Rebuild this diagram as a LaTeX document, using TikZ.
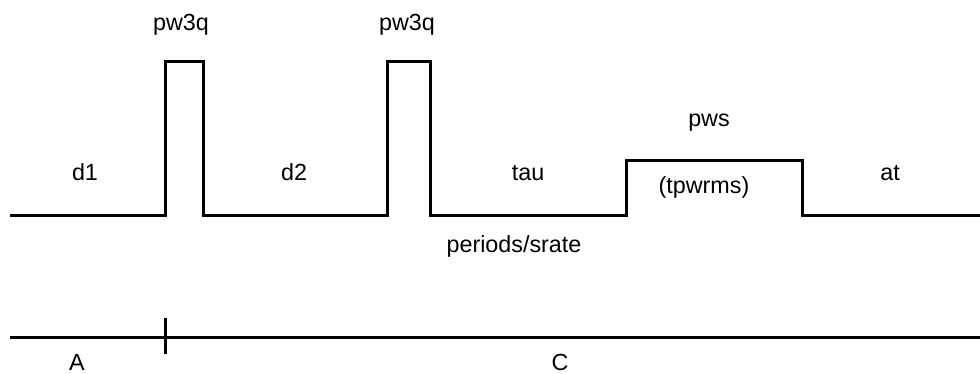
\documentclass[tikz,border=0pt]{standalone}
\usepackage{fontspec}
\setmainfont{Liberation Sans}
\begin{document}
\begin{tikzpicture}[x=0.75pt, y=-0.75pt, every node/.style={font=\fontsize{17.5}{20}\selectfont, anchor=base, inner sep=0pt}, seq/.style={line width=2.25pt, line join=miter}]
	\useasboundingbox (0,0) rectangle (980,374);
	% pulse train
	\draw[seq] (10,215) -- (165,215) -- (165,62) -- (203,62) -- (203,215) -- (387,215) -- (387,62) -- (430,62) -- (430,215) -- (626,215) -- (626,160) -- (802,160) -- (802,215) -- (980,215);
	\node (pa) at (181,31) {pw3q};
	\node (pb) at (407,31) {pw3q};
	\node (d1) at (85,180) {d1};
	\node (d2) at (294,180) {d2};
	\node (tau) at (528,180) {tau};
	\node (pws) at (709,127) {pws};
	\node (tpw) at (704,193) {(tpwrms)};
	\node (at) at (890,180) {at};
	\node (per) at (514,252) {periods/srate};
	% time axis
	\draw[seq] (10,337) -- (980,337);
	\draw[seq] (165,318) -- (165,354);
	\node (A) at (77,370) {A};
	\node (C) at (560,370) {C};
\end{tikzpicture}
\end{document}
